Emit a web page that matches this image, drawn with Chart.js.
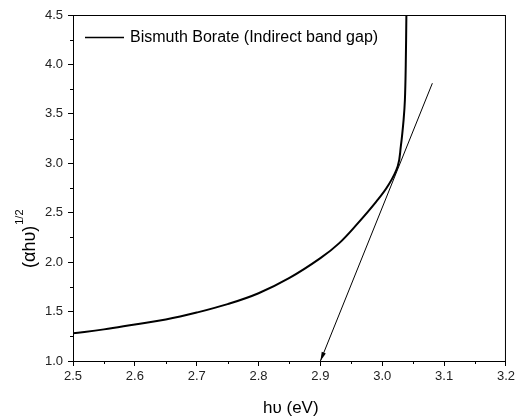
<!DOCTYPE html>
<html>
<head>
<meta charset="utf-8">
<script src="https://cdn.jsdelivr.net/npm/chart.js@4.4.0/dist/chart.umd.min.js"></script>
<style>
  html, body { margin: 0; padding: 0; background: #fff; }
  #wrap { width: 518px; height: 419px; }
</style>
</head>
<body>
<div id="wrap"><canvas id="chart" width="518" height="419"></canvas></div>
<script>
// curve: photon energy (eV) vs (αhυ)^1/2
const energy  = [2.50, 2.55, 2.60, 2.65, 2.70, 2.75, 2.80, 2.85, 2.90, 2.93, 2.96, 2.99, 3.01, 3.025, 3.03, 3.0345, 3.0366, 3.038, 3.039];
const sqrtAbs = [1.28, 1.32, 1.37, 1.42, 1.49, 1.575, 1.685, 1.84, 2.04, 2.19, 2.39, 2.61, 2.78, 2.97, 3.17, 3.44, 3.64, 4.00, 4.50];

// extrapolated tangent, arrow ends on the x axis
const tangentX = [3.081, 2.90];
const tangentY = [3.81, 1.00];

const seriesName = 'Bismuth Borate (Indirect band gap)';
const xTitle = 'h\u03c5 (eV)';
const yTitle = '(\u03b1h\u03c5)';
const yTitleSup = '1/2';

const FONT = '"Liberation Sans", Arial, sans-serif';

// frame, minor ticks, arrow head, legend and axis titles
const extras = {
    id: 'extras',
    afterDraw(chart) {
        const ctx = chart.ctx;
        const a = chart.chartArea;
        const xs = chart.scales.x;
        const ys = chart.scales.y;
        ctx.save();

        // box
        ctx.strokeStyle = '#000';
        ctx.lineWidth = 1;
        ctx.strokeRect(a.left + 0.5, a.top + 0.5, a.right - a.left - 1, a.bottom - a.top);

        // minor ticks
        ctx.beginPath();
        for (let v = 2.55; v < 3.2; v += 0.1) {
            const px = Math.round(xs.getPixelForValue(v)) + 0.5;
            ctx.moveTo(px, a.bottom);
            ctx.lineTo(px, a.bottom + 3);
        }
        for (let v = 1.25; v < 4.5; v += 0.5) {
            const py = Math.round(ys.getPixelForValue(v)) + 0.5;
            ctx.moveTo(a.left, py);
            ctx.lineTo(a.left - 3, py);
        }
        ctx.stroke();

        // arrow head at end of tangent
        const x0 = xs.getPixelForValue(tangentX[0]), y0 = ys.getPixelForValue(tangentY[0]);
        const x1 = xs.getPixelForValue(tangentX[1]), y1 = ys.getPixelForValue(tangentY[1]);
        const ang = Math.atan2(y1 - y0, x1 - x0);
        const len = 9, half = 2.2;
        ctx.fillStyle = '#000';
        ctx.beginPath();
        ctx.moveTo(x1, y1);
        ctx.lineTo(x1 - len * Math.cos(ang) + half * Math.sin(ang), y1 - len * Math.sin(ang) - half * Math.cos(ang));
        ctx.lineTo(x1 - len * Math.cos(ang) - half * Math.sin(ang), y1 - len * Math.sin(ang) + half * Math.cos(ang));
        ctx.closePath();
        ctx.fill();

        // legend
        ctx.lineWidth = 1.6;
        ctx.beginPath();
        ctx.moveTo(85, 37.5);
        ctx.lineTo(124, 37.5);
        ctx.stroke();
        ctx.fillStyle = '#000';
        ctx.font = '16px ' + FONT;
        ctx.textBaseline = 'middle';
        ctx.textAlign = 'left';
        ctx.fillText(seriesName, 130, 38);

        // x title
        ctx.font = '17px ' + FONT;
        ctx.textAlign = 'left';
        ctx.textBaseline = 'alphabetic';
        ctx.fillText(xTitle, 263, 413);

        // y title, rotated
        ctx.translate(35, 268);
        ctx.rotate(-Math.PI / 2);
        ctx.font = '18px ' + FONT;
        ctx.fillText(yTitle, 0, 0);
        const w = ctx.measureText(yTitle).width;
        ctx.font = '11px ' + FONT;
        ctx.fillText(yTitleSup, w + 1, -12);

        ctx.restore();
    }
};

new Chart(document.getElementById('chart'), {
    type: 'scatter',
    data: {
        datasets: [{
            label: seriesName,
            data: energy.map((x, i) => ({ x: x, y: sqrtAbs[i] })),
            showLine: true,
            borderColor: '#000',
            borderWidth: 2,
            pointRadius: 0,
            tension: 0.4
        }, {
            label: 'tangent',
            data: tangentX.map((x, i) => ({ x: x, y: tangentY[i] })),
            showLine: true,
            borderColor: '#000',
            borderWidth: 1,
            pointRadius: 0
        }]
    },
    options: {
        responsive: false,
        animation: false,
        layout: { padding: { top: 15, right: 9, left: 0, bottom: 0 } },
        plugins: {
            legend: { display: false },
            tooltip: { enabled: false }
        },
        scales: {
            x: {
                type: 'linear',
                min: 2.5,
                max: 3.2,
                ticks: {
                    stepSize: 0.1,
                    color: '#222',
                    font: { family: FONT, size: 13 },
                    padding: 3,
                    maxRotation: 0,
                    callback: v => v.toFixed(1)
                },
                grid: { drawOnChartArea: false, tickLength: 5, color: '#000' },
                border: { color: '#000', width: 1 },
                afterFit: s => { s.height = 58; }
            },
            y: {
                min: 1.0,
                max: 4.5,
                ticks: {
                    stepSize: 0.5,
                    color: '#222',
                    font: { family: FONT, size: 13 },
                    padding: 5,
                    callback: v => v.toFixed(1)
                },
                grid: { drawOnChartArea: false, tickLength: 5, color: '#000' },
                border: { color: '#000', width: 1 },
                afterFit: s => { s.width = 73; }
            }
        }
    },
    plugins: [extras]
});
</script>
</body>
</html>
